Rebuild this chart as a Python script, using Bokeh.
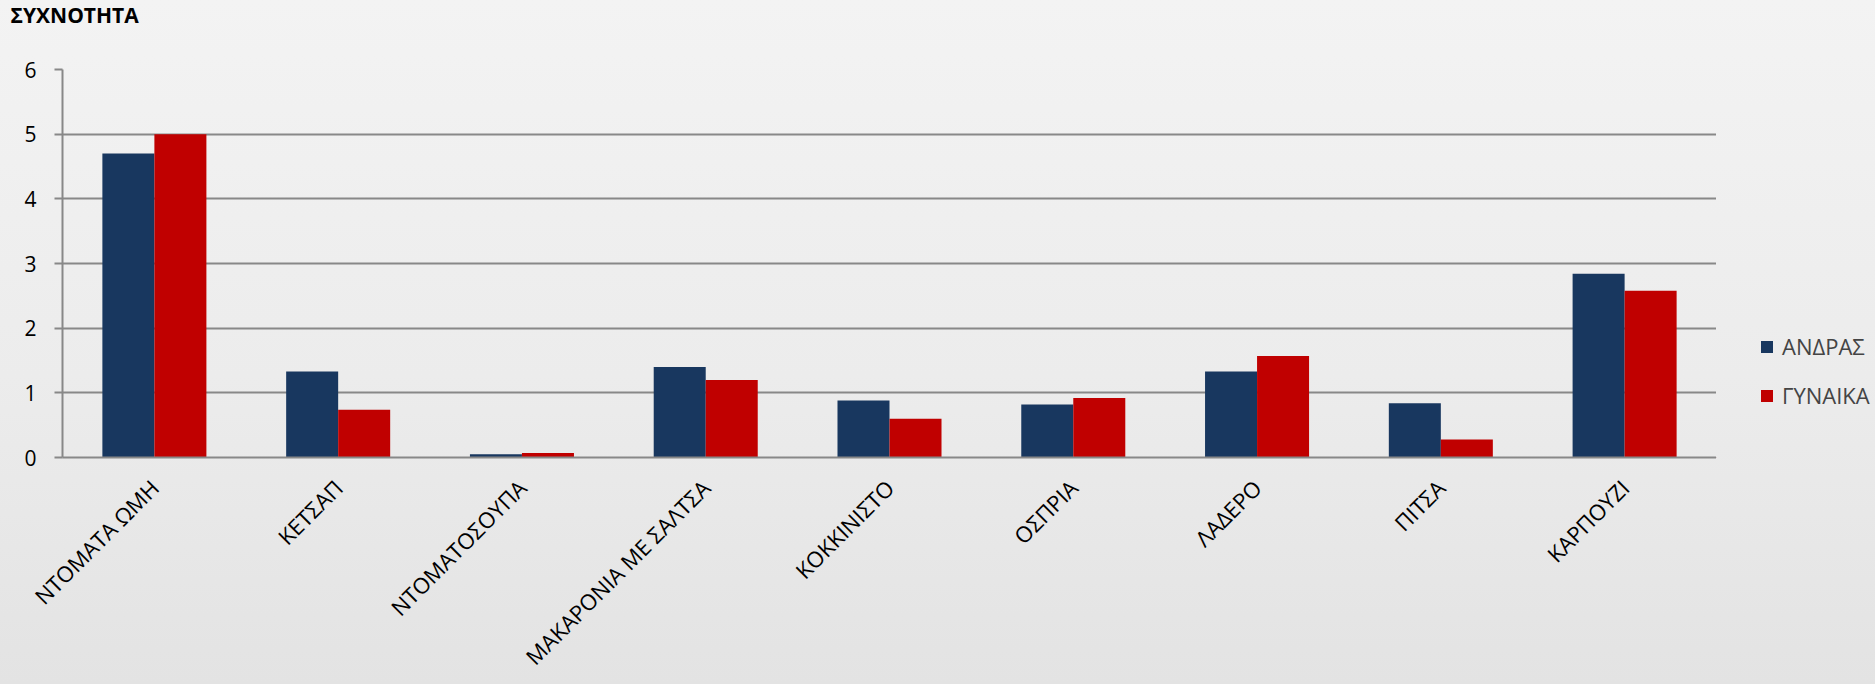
import math
from bokeh.plotting import figure
from bokeh.layouts import row
from bokeh.models import (FactorRange, Range1d, Legend, LegendItem, Title,
                          ColumnDataSource)
from bokeh.transform import dodge
from bokeh.embed import file_html
from bokeh.resources import INLINE

categories = ["ΝΤΟΜΑΤΑ ΩΜΗ", "ΚΕΤΣΑΠ", "ΝΤΟΜΑΤΟΣΟΥΠΑ", "ΜΑΚΑΡΟΝΙΑ ΜΕ ΣΑΛΤΣΑ",
              "ΚΟΚΚΙΝΙΣΤΟ", "ΟΣΠΡΙΑ", "ΛΑΔΕΡΟ", "ΠΙΤΣΑ", "ΚΑΡΠΟΥΖΙ"]
men = [4.7, 1.33, 0.05, 1.4, 0.88, 0.82, 1.33, 0.84, 2.84]
women = [5.0, 0.74, 0.07, 1.2, 0.6, 0.92, 1.57, 0.28, 2.58]
series_names = ["ΑΝΔΡΑΣ", "ΓΥΝΑΙΚΑ"]
y_ticks = [0, 1, 2, 3, 4, 5, 6]
y_title = "ΣΥΧΝΟΤΗΤΑ"

BLUE = "#18375f"
RED = "#c00000"
GRID = "#888888"
FONT = "Open Sans"

src = ColumnDataSource(dict(cat=categories, men=men, women=women))

p = figure(x_range=FactorRange(factors=categories, range_padding=0),
           y_range=Range1d(0, 6),
           width=1716, height=684, output_backend="svg", toolbar_location=None,
           min_border_left=62, min_border_right=0, min_border_top=67, min_border_bottom=226)

p.background_fill_alpha = 0
p.border_fill_alpha = 0
p.outline_line_color = None

bw = 0.283
r1 = p.vbar(x=dodge("cat", -bw / 2, range=p.x_range), top="men", width=bw, source=src,
            fill_color=BLUE, line_color=None)
r2 = p.vbar(x=dodge("cat", bw / 2, range=p.x_range), top="women", width=bw, source=src,
            fill_color=RED, line_color=None)

# grid
p.xgrid.grid_line_color = None
p.ygrid.grid_line_color = GRID
p.ygrid.grid_line_width = 2
p.yaxis.ticker = y_ticks

# y axis
p.yaxis.axis_line_color = GRID
p.yaxis.axis_line_width = 2
p.yaxis.major_tick_line_color = GRID
p.yaxis.major_tick_line_width = 2
p.yaxis.major_tick_out = 8
p.yaxis.major_tick_in = 0
p.yaxis.minor_tick_line_color = None
p.yaxis.major_label_text_font = FONT
p.yaxis.major_label_text_font_size = "21px"
p.yaxis.major_label_text_color = "black"
p.yaxis.major_label_standoff = 18

# x axis
p.xaxis.axis_line_color = GRID
p.xaxis.axis_line_width = 2
p.xaxis.major_tick_line_color = None
p.xaxis.minor_tick_line_color = None
p.xaxis.major_label_orientation = math.pi / 4
p.xaxis.major_label_text_font = FONT
p.xaxis.major_label_text_font_size = "22px"
p.xaxis.major_label_text_color = "black"
p.xaxis.major_label_standoff = 20

# y axis title at top-left (extra blank lines lift it towards the top edge)
t = Title(text=y_title + "\n \n ", align="left", offset=-52, standoff=0, vertical_align="top",
          text_font=FONT, text_font_size="21px", text_font_style="bold", text_color="black",
          text_line_height=0.7)
p.add_layout(t, "above")

# legend panel on the right
lg = figure(width=159, height=684, x_range=Range1d(0, 1), y_range=Range1d(0, 1),
            output_backend="svg", toolbar_location=None,
            min_border_left=0, min_border_right=0, min_border_top=0, min_border_bottom=0)
lg.background_fill_alpha = 0
lg.border_fill_alpha = 0
lg.outline_line_color = None
lg.axis.visible = False
lg.grid.grid_line_color = None
hidden = ColumnDataSource(dict(x=[-10], top=[-10]))
l1 = lg.vbar(x="x", top="top", width=0.1, source=hidden, fill_color=BLUE, line_color=None)
l2 = lg.vbar(x="x", top="top", width=0.1, source=hidden, fill_color=RED, line_color=None)

legend = Legend(items=[LegendItem(label=series_names[0], renderers=[l1]),
                       LegendItem(label=series_names[1], renderers=[l2])],
                location=(43, 47), orientation="vertical",
                background_fill_alpha=0, border_line_color=None,
                label_text_font=FONT, label_text_font_size="22px",
                glyph_width=15, glyph_height=15, label_height=26, label_standoff=8,
                spacing=19, padding=0, margin=0)
lg.add_layout(legend)

layout = row(p, lg, spacing=0,
             styles={"background": "linear-gradient(180deg, #f3f3f3 0%, #ececec 55%, #e3e3e3 100%)"})
open("out.html", "w").write(file_html(layout, INLINE))
